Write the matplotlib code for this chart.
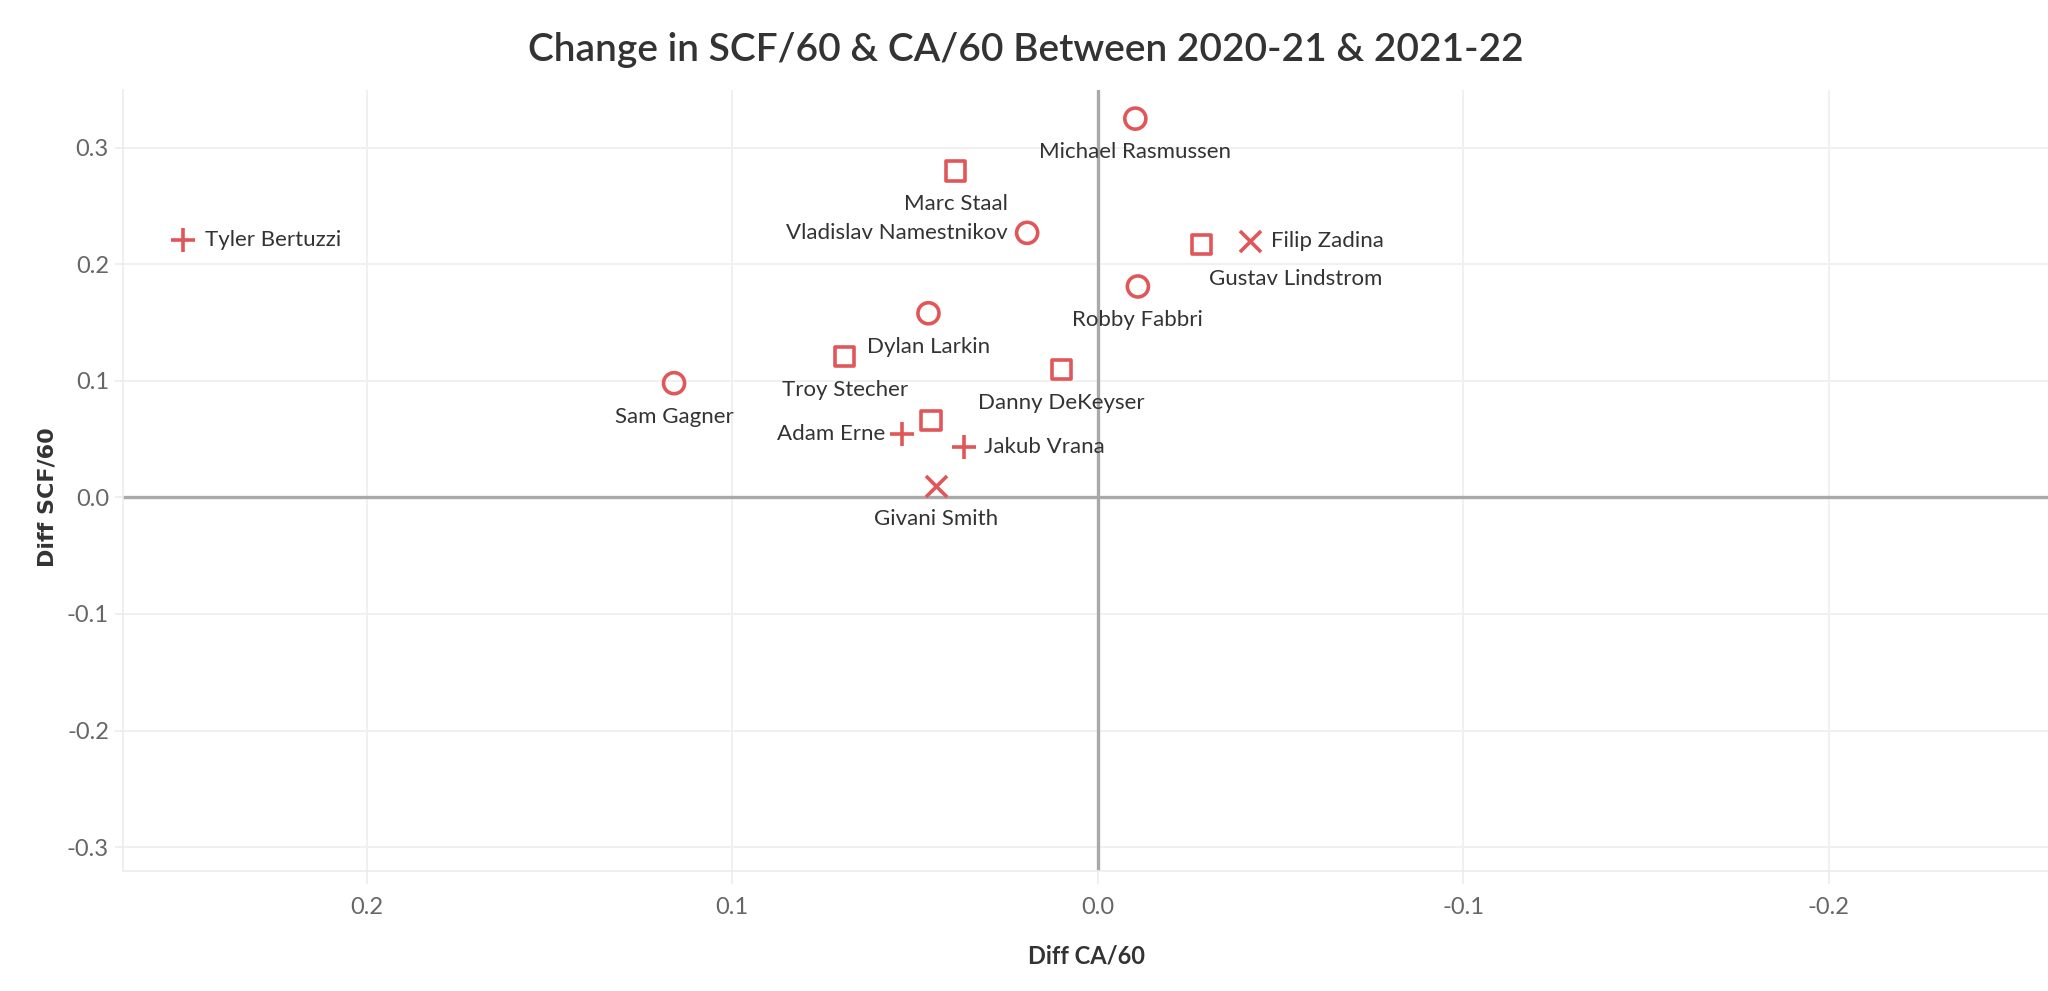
import matplotlib
matplotlib.use("Agg")
import matplotlib.pyplot as plt

# Diff CA/60 (x, reversed) and Diff SCF/60 (y) per player
players = ["Michael Rasmussen", "Marc Staal", "Vladislav Namestnikov", "Tyler Bertuzzi",
           "Gustav Lindstrom", "Filip Zadina", "Robby Fabbri", "Dylan Larkin",
           "Troy Stecher", "Danny DeKeyser", "Sam Gagner", "Adam Erne", "",
           "Jakub Vrana", "Givani Smith"]
ca_diff = [-0.0103, 0.0389, 0.0193, 0.2503, -0.0285, -0.0417, -0.0110, 0.0463,
           0.0692, 0.0100, 0.1159, 0.0535, 0.0456, 0.0367, 0.0442]
scf_diff = [0.325, 0.280, 0.227, 0.221, 0.217, 0.220, 0.181, 0.158,
            0.121, 0.110, 0.098, 0.054, 0.066, 0.043, 0.010]
position = ["C", "D", "C", "LW", "D", "RW", "C", "C",
            "D", "D", "C", "LW", "D", "LW", "RW"]

x_ticks = [0.2, 0.1, 0.0, -0.1, -0.2]
y_ticks = [0.3, 0.2, 0.1, 0.0, -0.1, -0.2, -0.3]

red = "#e15759"
plt.rcParams["font.family"] = ["Lato", "DejaVu Sans"]

fig = plt.figure(figsize=(20.48, 9.91), dpi=100)
ax = fig.add_axes([0.060, 0.121, 0.940, 0.788])

# marker style per position
styles = {
    "C": dict(marker="o", s=230, facecolors="none", edgecolors=red, linewidths=2.6),
    "D": dict(marker="s", s=190, facecolors="none", edgecolors=red, linewidths=2.6),
    "LW": dict(marker="+", s=300, c=red, linewidths=2.6),
    "RW": dict(marker="x", s=230, c=red, linewidths=2.6),
}
for pos, st in styles.items():
    xs = [x for x, p in zip(ca_diff, position) if p == pos]
    ys = [y for y, p in zip(scf_diff, position) if p == pos]
    ax.scatter(xs, ys, zorder=4, **st)

# label placement: (dx, dy) in points, horizontal alignment
below = (0, -24, "center")
placement = {
    "Vladislav Namestnikov": (-14, 0, "right"),
    "Tyler Bertuzzi": (16, 0, "left"),
    "Filip Zadina": (15, 0, "left"),
    "Gustav Lindstrom": (5, -25, "left"),
    "Adam Erne": (-12, 0, "right"),
    "Jakub Vrana": (15, 0, "left"),
}
for name, x, y in zip(players, ca_diff, scf_diff):
    if not name:
        continue
    dx, dy, ha = placement.get(name, below)
    ax.annotate(name, (x, y), xytext=(dx, dy), textcoords="offset points",
                ha=ha, va="center", fontsize=16, color="#333333", zorder=5)

ax.axhline(0, color="#a9a9a9", lw=2.4, zorder=2)
ax.axvline(0, color="#a9a9a9", lw=2.4, zorder=2)

ax.set_xlim(0.2667, -0.26)
ax.set_ylim(-0.3206, 0.3494)
ax.set_xticks(x_ticks)
ax.set_yticks(y_ticks)
ax.set_xticklabels([f"{v:.1f}" for v in x_ticks])
ax.set_yticklabels([f"{v:.1f}" for v in y_ticks])
ax.grid(True, color="#f0f0f0", lw=1.4, zorder=0)
ax.tick_params(axis="both", colors="#ececec", labelcolor="#666666", labelsize=17, width=1.2)
ax.tick_params(axis="x", length=9, pad=10)
ax.tick_params(axis="y", length=6, pad=4)

for side in ["top", "right"]:
    ax.spines[side].set_visible(False)
for side in ["left", "bottom"]:
    ax.spines[side].set_color("#ececec")
    ax.spines[side].set_linewidth(1.2)

ax.set_xlabel("Diff CA/60", fontsize=17, color="#333333", fontweight="bold")
ax.set_ylabel("Diff SCF/60", fontsize=16, color="#333333", fontweight="bold",
              family="DejaVu Sans")
ax.xaxis.set_label_coords(0.5007, -0.094)
ax.yaxis.set_label_coords(-0.034, 0.479)

fig.text(0.501, 0.950, "Change in SCF/60 & CA/60 Between 2020-21 & 2021-22",
         ha="center", va="center", fontsize=28, color="#333333", fontweight="semibold")

fig.savefig("out.png", dpi=100)
